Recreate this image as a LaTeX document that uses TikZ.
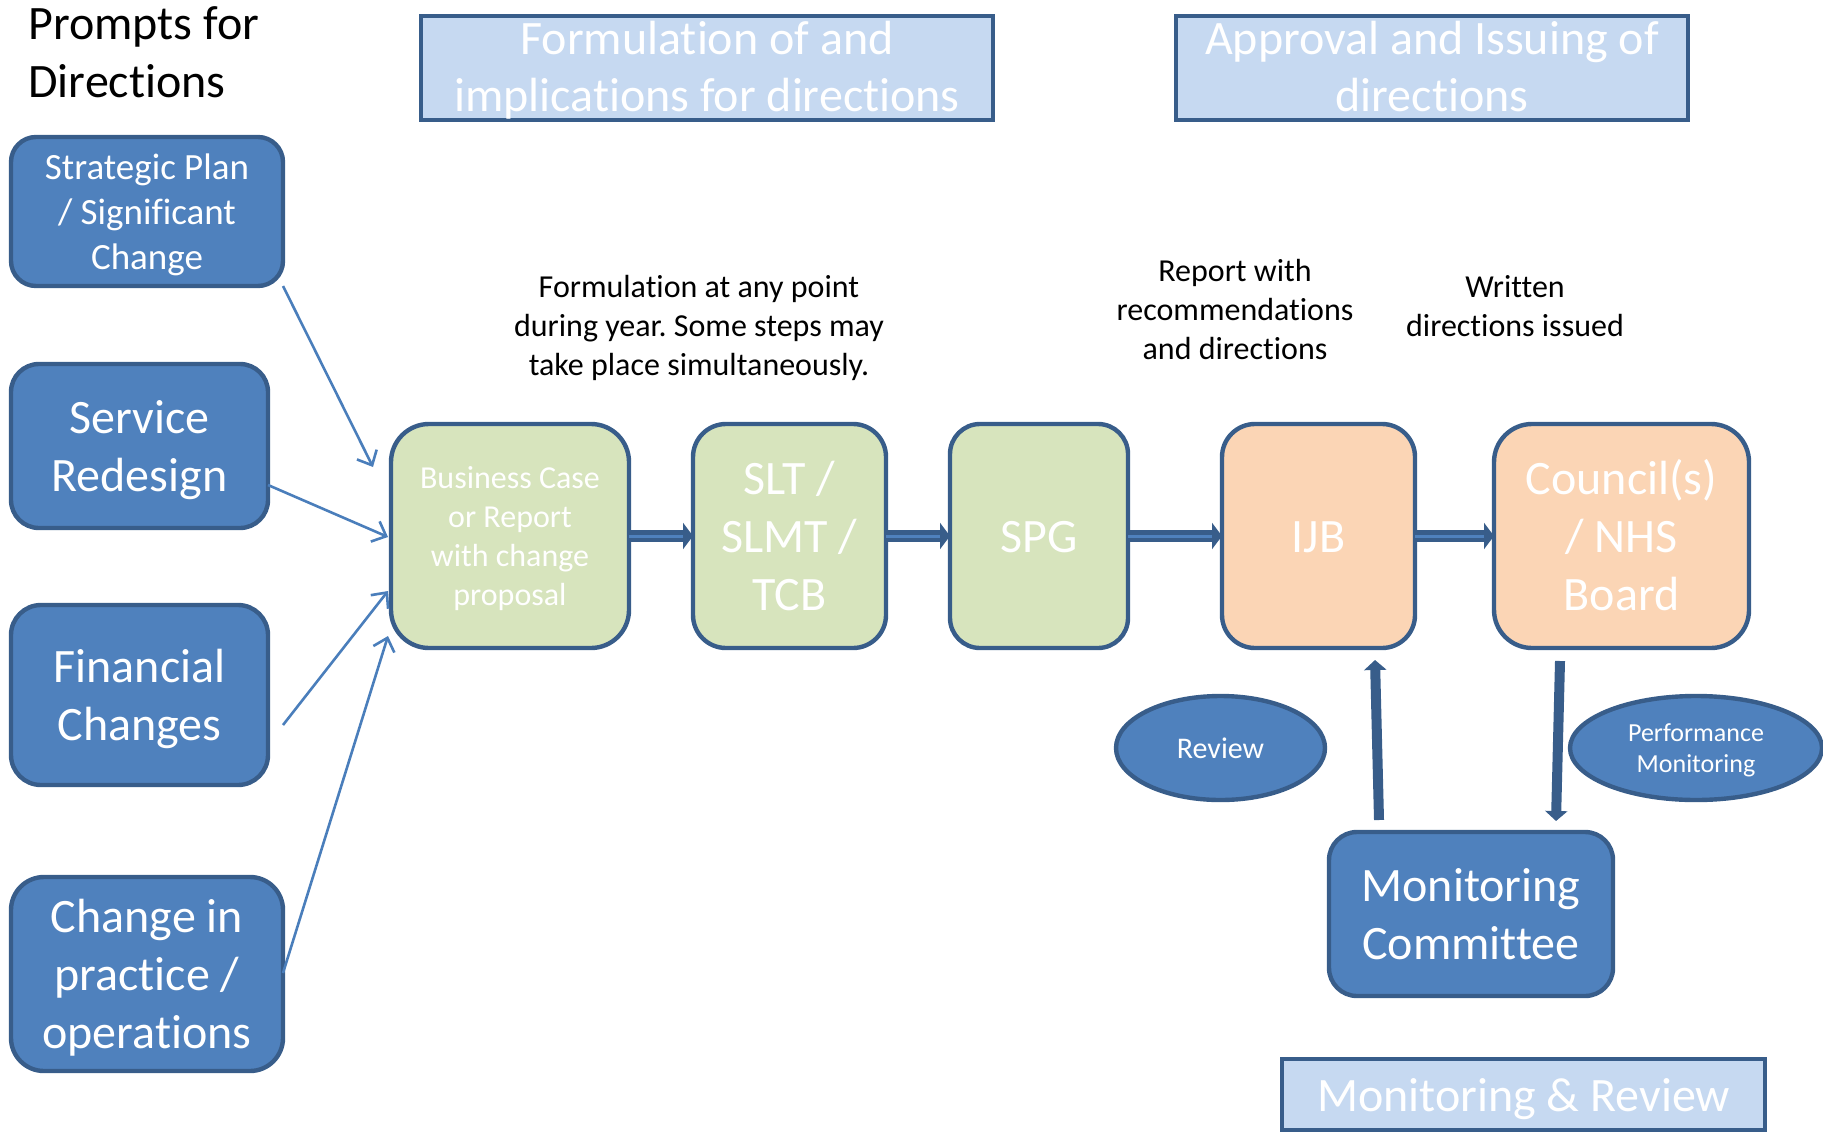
\documentclass[tikz,border=0pt]{standalone}
\usepackage{fontspec}
\setmainfont{Carlito}[Ligatures=NoCommon]
\usetikzlibrary{arrows.meta,calc,shapes.geometric}
\definecolor{bfill}{HTML}{4F81BD}
\definecolor{bdr}{HTML}{385D8A}
\definecolor{gfill}{HTML}{D7E4BD}
\definecolor{pfill}{HTML}{FBD5B5}
\definecolor{hfill}{HTML}{C6D9F1}
\definecolor{tarrow}{HTML}{4A7EBB}
\frenchspacing
\newcommand{\myfs}[2]{\fontsize{#1}{#2}\selectfont}
\newcommand{\Ts}{\rule{0pt}{0.95em}}
\newcommand{\Bs}{\rule[-0.25em]{0pt}{0.25em}}
\newcommand{\Th}{\rule{0pt}{0.79em}}
\newcommand{\Bh}{\rule[-0.18em]{0pt}{0.18em}}
\begin{document}
\begin{tikzpicture}[x=0.5pt,y=-0.5pt,
  box/.style={rectangle, draw=bdr, line width=2.2pt, align=center, text=white, inner sep=0pt, outer sep=0pt},
  bluebox/.style={box, fill=bfill},
  greenbox/.style={box, fill=gfill},
  peachbox/.style={box, fill=pfill},
  hdr/.style={box, fill=hfill, font=\myfs{24}{28.5}},
  big/.style={font=\myfs{24}{29}},
  oval/.style={ellipse, draw=bdr, line width=2.2pt, fill=bfill, text=white, align=center, inner sep=0pt, outer sep=0pt},
  thinarr/.style={draw=tarrow, line width=1.3pt, -{Straight Barb[length=6pt,width=11pt]}},
  flow/.style={draw=bdr, line width=6pt, -{Triangle[length=5pt,width=13pt]}},
  flowmid/.style={draw=bfill, line width=1.5pt, shorten >=5pt},
  vflow/.style={draw=bdr, line width=5pt, -{Triangle[length=5pt,width=11pt]}},
  note/.style={align=center, text=black, font=\myfs{16}{19.5}, inner sep=0pt}
]
\useasboundingbox (0,0) rectangle (1823,1134);
\clip (0,0) rectangle (1823,1134);

% title
\node[anchor=west, align=left, font=\myfs{24}{29}, inner sep=0pt] (PR) at (28,52) {Prompts for\\Directions};

% headers
\node[hdr, minimum width=286pt, minimum height=52pt] (H1) at (707,68) {\Th Formulation of and\\implications for directions\Bh};
\node[hdr, minimum width=256pt, minimum height=52pt] (H2) at (1432,68) {\Th Approval and Issuing of\\directions\Bh};
\node[hdr, minimum width=241.5pt, minimum height=35.5pt] (H3) at (1523.5,1094.5) {\Ts Monitoring \& Review\Bs};

% prompt boxes
\node[bluebox, rounded corners=12.5pt, minimum width=136pt, minimum height=74.5pt, font=\myfs{18.5}{22.5}] (SP) at (147,211.5) {\Ts Strategic Plan\\/ Significant\\Change\Bs};
\node[bluebox, big, rounded corners=14pt, minimum width=128.5pt, minimum height=82pt] (SR) at (139.5,446) {\Ts Service\\Redesign\Bs};
\node[bluebox, big, rounded corners=15pt, minimum width=128.5pt, minimum height=90pt] (FC) at (139.5,695) {\Ts Financial\\Changes\Bs};
\node[bluebox, big, rounded corners=16.5pt, minimum width=136pt, minimum height=97pt] (CP) at (147,974) {\Ts Change in\\practice /\\operations\Bs};

% flow boxes
\node[greenbox, rounded corners=19pt, minimum width=119pt, minimum height=112pt, font=\myfs{16}{19.5}] (BC) at (510,536) {\Ts Business Case\\or Report\\with change\\proposal\Bs};
\node[greenbox, big, rounded corners=16.5pt, minimum width=96.5pt, minimum height=112pt] (SLT) at (789.5,536) {\Ts SLT /\\SLMT /\\TCB\Bs};
\node[greenbox, big, rounded corners=15pt, minimum width=89pt, minimum height=112pt] (SPG) at (1039,536) {\Ts SPG\Bs};
\node[peachbox, big, rounded corners=16.5pt, minimum width=96.5pt, minimum height=112pt] (IJB) at (1318.5,536) {\Ts IJB\Bs};
\node[peachbox, big, rounded corners=19pt, minimum width=127.5pt, minimum height=112pt] (CN) at (1621.5,536) {\Ts Council(s)\\/ NHS\\Board\Bs};

% monitoring
\node[bluebox, big, rounded corners=14pt, minimum width=142pt, minimum height=82pt] (MC) at (1471,914) {\Ts Monitoring\\Committee\Bs};
\node[oval, minimum width=104.5pt, minimum height=52pt, font=\myfs{15}{18}] (RV) at (1220.5,748) {\Ts Review\Bs};
\node[oval, minimum width=126pt, minimum height=52pt, font=\myfs{13}{15.8}] (PM) at (1696,748) {\Ts Performance\\Monitoring\Bs};

% notes
\node[note] (N1) at (699,325) {\Ts Formulation at any point\\during year. Some steps may\\take place simultaneously.\Bs};
\node[note] (N2) at (1235,309) {\Ts Report with\\recommendations\\and directions\Bs};
\node[note] (N3) at (1515,305.5) {\Ts Written\\directions issued\Bs};

% thin arrows from prompts
\draw[thinarr] (SP.south east) -- ($(BC.west)+(-18,-69)$);
\draw[thinarr] ($(SR.east)+(0,39)$) -- ($(BC.west)+(-3,1)$);
\draw[thinarr] ($(FC.east)+(15,30)$) -- ($(BC.west)+(-3,55)$);
\draw[thinarr] ($(CP.east)+(0,-1)$) -- ($(BC.west)+(-3,100)$);

% thick flow arrows
\foreach \a/\b in {BC/SLT, SLT/SPG, SPG/IJB, IJB/CN}{
  \draw[flow] (\a.east) -- (\b.west);
  \draw[flowmid] (\a.east) -- (\b.west);
}

% vertical arrows
\draw[vflow] ($(MC.north west)+(50,-12)$) -- ($(IJB.south east)+(-40,12)$);
\draw[vflow] ($(CN.south west)+(66,13)$) -- ($(MC.north east)+(-57,-11)$);
\end{tikzpicture}
\end{document}
